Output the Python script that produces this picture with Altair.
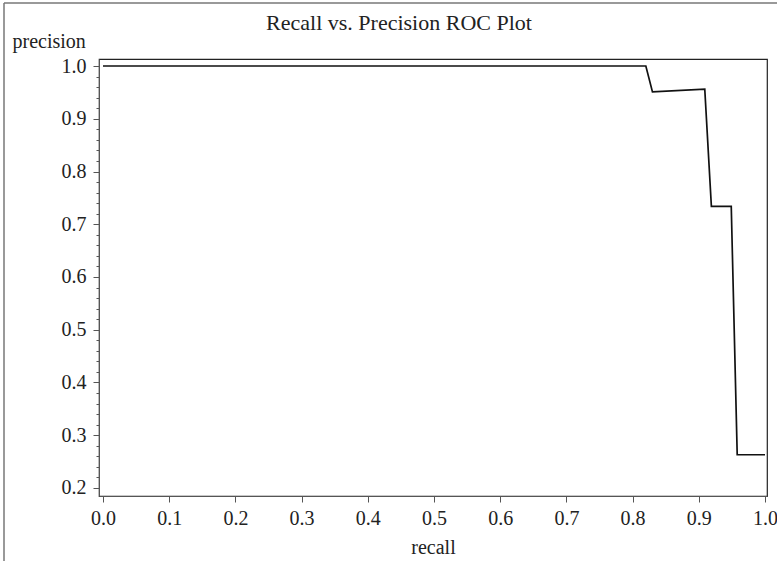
import altair as alt
import pandas as pd

recall = [0.0, 0.82, 0.83, 0.909, 0.919, 0.949, 0.958, 1.0]
precision = [1.0, 1.0, 0.951, 0.956, 0.734, 0.734, 0.263, 0.263]
x_ticks = [0.0, 0.1, 0.2, 0.3, 0.4, 0.5, 0.6, 0.7, 0.8, 0.9, 1.0]
y_ticks = [0.2, 0.3, 0.4, 0.5, 0.6, 0.7, 0.8, 0.9, 1.0]
y_minor = [round(0.2 + 0.02 * i, 2) for i in range(41)]
title_text = ["Recall vs. Precision ROC Plot"]

df = pd.DataFrame({"recall": recall, "precision": precision})

FONT = "Liberation Serif"
AXC = "#555555"
TXT = "#222222"
FS = 20

xscale = alt.Scale(domain=[-0.006, 1.003], nice=False, zero=False)
yscale = alt.Scale(domain=[0.1848, 1.0133], nice=False, zero=False)

line = alt.Chart(df).mark_line(color="#111111", strokeWidth=1.7, clip=True).encode(
    x=alt.X("recall:Q", scale=xscale,
            axis=alt.Axis(values=x_ticks, format=".1f", title="recall",
                          grid=False, tickSize=6, tickColor=AXC, domainColor=AXC,
                          labelPadding=6, labelFontSize=FS, labelFont=FONT,
                          labelColor=TXT, titleFont=FONT, titleFontSize=FS,
                          titleFontWeight="normal", titleColor=TXT,
                          titleBaseline="alphabetic", titleY=57)),
    y=alt.Y("precision:Q", scale=yscale,
            axis=alt.Axis(values=y_ticks, format=".1f", title="precision", orient="left",
                          grid=False, tickSize=6, tickColor=AXC, domainColor=AXC,
                          labelPadding=7, labelFontSize=FS, labelFont=FONT,
                          labelColor=TXT, titleFont=FONT, titleFontSize=FS,
                          titleFontWeight="normal", titleColor=TXT,
                          titleAngle=0, titleAlign="left", titleBaseline="alphabetic",
                          titleX=-87, titleY=-12)),
)

minor = alt.Chart(pd.DataFrame({"v": y_minor})).mark_point(opacity=0).encode(
    y=alt.Y("v:Q", scale=yscale,
            axis=alt.Axis(values=y_minor, labels=False, title=None, grid=False, orient="left",
                          tickSize=3, tickColor=AXC, domain=False)),
)

title = alt.Chart(pd.DataFrame({"t": title_text})).mark_text(
    font=FONT, fontSize=22, color=TXT, align="center", baseline="alphabetic"
).encode(text="t:N", x=alt.value(300), y=alt.value(-29))

frame = alt.Chart(pd.DataFrame({"k": [0]})).mark_rule(color="#777777", strokeWidth=1.5).encode(
    x=alt.value(-95), y=alt.value(-56), y2=alt.value(520)
)
frame2 = alt.Chart(pd.DataFrame({"k": [0]})).mark_rule(color="#777777", strokeWidth=1.5).encode(
    x=alt.value(-95), x2=alt.value(700), y=alt.value(-56)
)

chart = alt.layer(frame, frame2, title, minor, line).resolve_axis(
    y="independent"
).properties(
    width=668, height=437,
    autosize=alt.AutoSizeParams(type="none"),
    padding={"left": 99, "top": 59, "right": 10, "bottom": 65},
    background="white",
).configure_view(stroke="#222222", strokeWidth=1.2)

chart.save("out.html", embed_options={"renderer": "svg", "actions": False})
